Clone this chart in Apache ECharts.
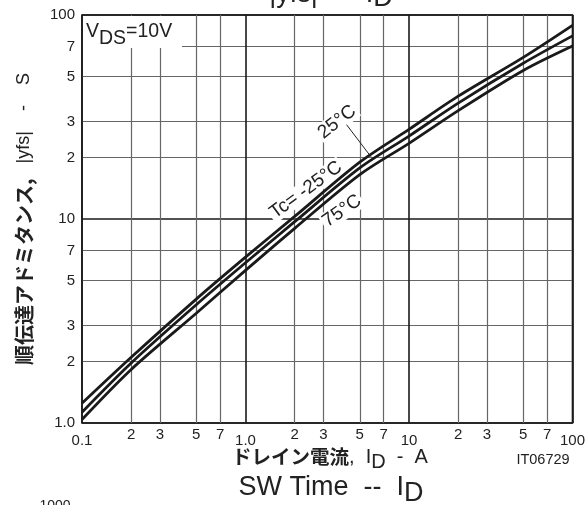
<!DOCTYPE html>
<html>
<head>
<meta charset="utf-8">
<script src="https://cdn.jsdelivr.net/npm/echarts@6/dist/echarts.min.js"></script>
<style>
html,body{margin:0;padding:0;background:#fff;}
#chart{width:588px;height:505px;}
</style>
</head>
<body>
<div id="chart"></div>
<script>
// Drain current I_D (A)
const currentA = [0.1, 0.2, 0.5, 1, 2, 5, 10, 20, 50, 100];
// |yfs| (S) for each case temperature
const yfsTcMinus25 = [1.25, 2.1, 4.05, 6.5, 10.3, 19.0, 27.5, 40, 62, 89];
const yfsTc25      = [1.13, 1.97, 3.8, 6.1, 9.7, 17.8, 25.5, 37, 58, 79];
const yfsTc75      = [1.04, 1.83, 3.45, 5.6, 9.0, 16.5, 23.5, 34, 53.5, 70.5];

// tick values / labels
const xMajorTicks = [0.1, 1, 10, 100];
const xMajorLabels = ['0.1', '1.0', '10', '100'];
const xMinorTicks = [0.2, 0.3, 0.5, 0.7, 2, 3, 5, 7, 20, 30, 50, 70];
const xMinorLabels = ['2', '3', '5', '7', '2', '3', '5', '7', '2', '3', '5', '7'];
const yMajorTicks = [1, 10, 100];
const yMajorLabels = ['1.0', '10', '100'];
const yMinorTicks = [2, 3, 5, 7, 20, 30, 50, 70];
const yMinorLabels = ['2', '3', '5', '7', '2', '3', '5', '7'];

function labelFor(ticks, labels) {
  return function (v) {
    for (let i = 0; i < ticks.length; i++) {
      if (Math.abs(Math.log10(v) - Math.log10(ticks[i])) < 1e-6) return labels[i];
    }
    return '';
  };
}
function pairs(ys) { return currentA.map((x, i) => [x, ys[i]]); }

const FONT = '"Liberation Sans", Arial, sans-serif';
const JFONT = '"Noto Sans CJK JP", "Liberation Sans", sans-serif';
const INK = '#1a1a1a';

const chart = echarts.init(document.getElementById('chart'), null, {renderer: 'canvas'});

const lineBase = {
  type: 'line', smooth: 0.3, showSymbol: false, symbol: 'none',
  lineStyle: {color: INK, width: 2.8}, itemStyle: {color: INK}, z: 5, animation: false
};
const tickFont = {color: '#222', fontSize: 15, fontFamily: FONT};

const option = {
  animation: false,
  backgroundColor: '#fff',
  grid: {left: 82, right: 15, top: 15, bottom: 82, show: true, borderColor: '#1a1a1a', borderWidth: 1.6, backgroundColor: 'transparent'},
  xAxis: [
    {
      type: 'log', logBase: 10, min: 0.1, max: 100, gridIndex: 0,
      axisLine: {show: false}, axisTick: {show: false, customValues: xMinorTicks},
      axisLabel: Object.assign({customValues: xMinorTicks, formatter: labelFor(xMinorTicks, xMinorLabels), margin: 4}, tickFont),
      splitLine: {show: true, lineStyle: {color: '#666', width: 1.2}}
    },
    {
      type: 'log', logBase: 10, min: 0.1, max: 100, gridIndex: 0, position: 'bottom',
      axisLine: {show: false}, axisTick: {show: false, customValues: xMajorTicks},
      axisLabel: Object.assign({customValues: xMajorTicks, formatter: labelFor(xMajorTicks, xMajorLabels), margin: 10}, tickFont),
      splitLine: {show: true, lineStyle: {color: '#1a1a1a', width: 1.6}}
    }
  ],
  yAxis: [
    {
      type: 'log', logBase: 10, min: 1, max: 100, gridIndex: 0,
      axisLine: {show: false}, axisTick: {show: false, customValues: yMinorTicks},
      axisLabel: Object.assign({customValues: yMinorTicks, formatter: labelFor(yMinorTicks, yMinorLabels), margin: 7}, tickFont),
      splitLine: {show: true, lineStyle: {color: '#666', width: 1.2}}
    },
    {
      type: 'log', logBase: 10, min: 1, max: 100, gridIndex: 0, position: 'left',
      axisLine: {show: false}, axisTick: {show: false, customValues: yMajorTicks},
      axisLabel: Object.assign({customValues: yMajorTicks, formatter: labelFor(yMajorTicks, yMajorLabels), margin: 7}, tickFont),
      splitLine: {show: true, lineStyle: {color: '#1a1a1a', width: 1.6}}
    }
  ],
  series: [
    Object.assign({name: 'Tc=-25°C', data: pairs(yfsTcMinus25)}, lineBase),
    Object.assign({name: 'Tc=25°C', data: pairs(yfsTc25),
      markLine: {
        silent: true, symbol: ['none', 'arrow'], symbolSize: [0, 7], label: {show: false},
        lineStyle: {color: '#222', width: 1, type: 'solid'},
        data: [[{coord: [4.15, 29]}, {coord: [5.85, 20.2]}]]
      }}, lineBase),
    Object.assign({name: 'Tc=75°C', data: pairs(yfsTc75)}, lineBase)
  ],
  graphic: [
    // VDS box
    {type: 'rect', left: 83, top: 16, shape: {width: 99, height: 32}, style: {fill: '#fff'}, z: 3},
    {type: 'text', left: 86, top: 22, z: 4,
      style: {text: '{n|V}{s|DS}{n|=10V}', fill: '#222',
        rich: {n: {fontSize: 19.5, fontFamily: FONT, verticalAlign: 'top', fill: '#222'},
               s: {fontSize: 19.5, fontFamily: FONT, padding: [7, 0, 0, 0], verticalAlign: 'top', fill: '#222'}}}},
    // temperature labels
    {type: 'text', x: 337, y: 122, rotation: 38 * Math.PI / 180, z: 1,
      style: {text: '25°C', font: '19px ' + FONT, fill: '#222', align: 'center', verticalAlign: 'middle', backgroundColor: '#fff', padding: [0, 2]}},
    {type: 'text', x: 306, y: 190, rotation: 36 * Math.PI / 180, z: 1,
      style: {text: 'Tc= -25°C', font: '19px ' + FONT, fill: '#222', align: 'center', verticalAlign: 'middle', backgroundColor: '#fff', padding: [0, 2]}},
    {type: 'text', x: 342, y: 211, rotation: 35 * Math.PI / 180, z: 1,
      style: {text: '75°C', font: '19px ' + FONT, fill: '#222', align: 'center', verticalAlign: 'middle', backgroundColor: '#fff', padding: [0, 2]}},
    // y axis title
    {type: 'text', x: 24, y: 219, rotation: Math.PI / 2, z: 4,
      style: {text: '{b|順伝達アドミタンス,}{n|   |yfs|    -    S}', align: 'center', verticalAlign: 'middle',
        rich: {b: {fontSize: 20, fontWeight: 'bold', fontFamily: JFONT, fill: '#222'},
               n: {fontSize: 18, fontFamily: FONT, fill: '#222'}}}},
    // x axis title
    {type: 'text', x: 330, y: 447, z: 4,
      style: {text: '{b|ドレイン電流}{n|,  I}{s|D}{n|  -  A}', align: 'center', verticalAlign: 'top',
        rich: {b: {fontSize: 19.5, fontWeight: 'bold', fontFamily: JFONT, fill: '#222', verticalAlign: 'top'},
               n: {fontSize: 20, fontFamily: FONT, fill: '#222', verticalAlign: 'top'},
               s: {fontSize: 20, fontFamily: FONT, fill: '#222', padding: [5, 0, 0, 0], verticalAlign: 'top'}}}},
    {type: 'text', x: 543, y: 460, z: 4,
      style: {text: 'IT06729', font: '14.5px ' + FONT, fill: '#222', align: 'center', verticalAlign: 'middle'}},
    // next chart title (partially visible)
    {type: 'text', x: 331, y: 474, z: 4,
      style: {text: '{n|SW Time  --  I}{s|D}', align: 'center', verticalAlign: 'top',
        rich: {n: {fontSize: 27, fontFamily: FONT, fill: '#222', verticalAlign: 'top'},
               s: {fontSize: 27, fontFamily: FONT, fill: '#222', padding: [6, 0, 0, 0], verticalAlign: 'top'}}}},
    {type: 'text', x: 55, y: 499, z: 4,
      style: {text: '1000', font: '14px ' + FONT, fill: '#222', align: 'center', verticalAlign: 'top'}},
    // this chart's title (cut at top)
    {type: 'text', x: 331, y: -19, z: 4,
      style: {text: '{n||yfs|  --  I}{s|D}', align: 'center', verticalAlign: 'top',
        rich: {n: {fontSize: 27, fontFamily: FONT, fill: '#222', verticalAlign: 'top'},
               s: {fontSize: 27, fontFamily: FONT, fill: '#222', padding: [4, 0, 0, 0], verticalAlign: 'top'}}}}
  ]
};
chart.setOption(option);
</script>
</body>
</html>
